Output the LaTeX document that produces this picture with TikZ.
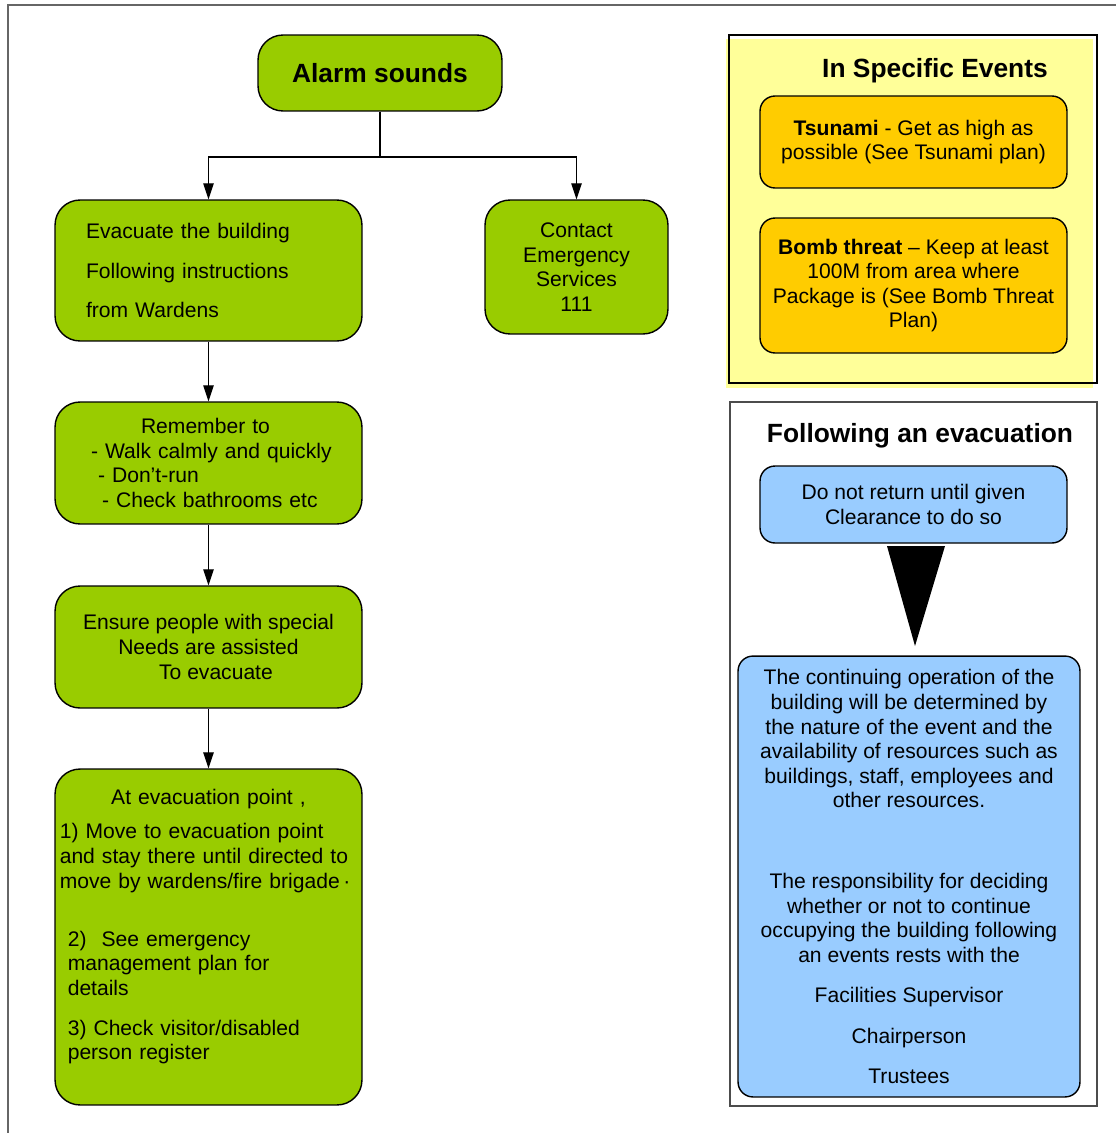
\documentclass[tikz,border=0pt]{standalone}
\usepackage{fontspec}
\setmainfont{Liberation Sans}
\usetikzlibrary{arrows.meta}

\definecolor{leaf}{HTML}{99CC00}
\definecolor{lemon}{HTML}{FFFF99}
\definecolor{amber}{HTML}{FFCC00}
\definecolor{sky}{HTML}{99CCFF}

\tikzset{
  stepbox/.style={draw, line width=0.8pt, rounded corners=0.5cm, fill=leaf, align=center,
    inner sep=0pt, font=\fontsize{12}{14}\selectfont},
  eventbox/.style={stepbox, fill=amber, rounded corners=0.3cm},
  afterbox/.style={stepbox, fill=sky, rounded corners=0.3cm},
  title/.style={font=\fontsize{15}{18}\selectfont\bfseries},
  flow/.style={line width=0.6pt, -{Triangle[length=0.32cm,width=0.21cm]}},
}

\begin{document}
\begin{tikzpicture}[x=0.02cm, y=-0.02cm]
	\useasboundingbox (0,0) rectangle (1116,1133);
	
	% page frame
	\draw[line width=1pt, black!60] (8,1133) -- (8,5) -- (1116,5);
	
	%%%%% left column %%%%%
	\node[stepbox, minimum width=4.88cm, minimum height=1.52cm, title] (alarm) at (380,73) {Alarm sounds};
	
	\node[stepbox, minimum width=6.14cm, minimum height=2.82cm, text width=4.9cm, align=left] (evacuate) at (208.5,270.5)
		{Evacuate the building\\[0.3cm]Following instructions\\[0.3cm]from Wardens};
	\node[stepbox, minimum width=3.66cm, minimum height=2.68cm] (contact) at (576.5,267)
		{Contact\\Emergency\\Services\\111};
	
	\node[stepbox, minimum width=6.14cm, minimum height=2.44cm, text width=5cm, align=left] (remember) at (208.5,463)
		{\hspace*{1.15cm}Remember to\\\hspace*{0.15cm}- Walk calmly and quickly\\\hspace*{0.29cm}- Don’t-run\\\hspace*{0.37cm}- Check bathrooms etc};
	
	\node[stepbox, minimum width=6.14cm, minimum height=2.44cm] (ensure) at (208.5,647)
		{Ensure people with special\\Needs are assisted\\\hspace*{0.3cm}To evacuate};
	
	\node[stepbox, minimum width=6.14cm, minimum height=6.72cm, text width=5.95cm, align=left] (muster) at (208.5,937)
		{\makebox[5.95cm]{At evacuation point ,}\\[0.19cm]
		1) Move to evacuation point\\and stay there until directed to\\move by wardens/fire brigade\,·\\[0.67cm]
		\hspace*{0.16cm}2)\hspace{0.3cm}See emergency\\\hspace*{0.16cm}management plan for\\\hspace*{0.16cm}details\\[0.31cm]
		\hspace*{0.16cm}3) Check visitor/disabled\\\hspace*{0.16cm}person register\\\mbox{}};
	
	\coordinate (split) at (380,157);
	\draw[line width=0.6pt] (alarm) -- (split);
	\draw[flow] (split) -| (evacuate);
	\draw[flow] (split) -| (contact);
	\draw[flow] (evacuate) -- (remember);
	\draw[flow] (remember) -- (ensure);
	\draw[flow] (ensure) -- (muster);
	
	%%%%% right column: specific events %%%%%
	\fill[lemon] (726,39) rectangle (1093,388);
	\draw[line width=0.6pt] (729,35) rectangle (1097,383);
	\node[title] (events) at (935,71) {In Specific Events};
	\node[eventbox, minimum width=6.14cm, minimum height=1.84cm] (tsunami) at (913.5,142)
		{\textbf{Tsunami} - Get as high as\\possible (See Tsunami plan)};
	\node[eventbox, minimum width=6.14cm, minimum height=2.7cm] (bomb) at (913.5,285.5)
		{\textbf{Bomb threat} -- Keep at least\\100M from area where\\Package is (See Bomb Threat\\Plan)};
	
	%%%%% right column: following an evacuation %%%%%
	\draw[line width=0.8pt, black!70] (730,402) rectangle (1097,1106);
	\node[title] (aftermath) at (920,436) {Following an evacuation};
	\node[afterbox, minimum width=6.14cm, minimum height=1.54cm] (clearance) at (913.5,504.5)
		{Do not return until given\\Clearance to do so};
	\fill (887,546) -- (945,546) -- (915,646) -- cycle;
	\node[afterbox, minimum width=6.84cm, minimum height=8.82cm] (continuing) at (909,876.5)
		{The continuing operation of the\\building will be determined by\\the nature of the event and the\\availability of resources such as\\buildings, staff, employees and\\other resources.\\[1.12cm]
		The responsibility for deciding\\whether or not to continue\\occupying the building following\\an events rests with the\\[0.31cm]
		Facilities Supervisor\\[0.32cm]Chairperson\\[0.31cm]Trustees};
\end{tikzpicture}
\end{document}
